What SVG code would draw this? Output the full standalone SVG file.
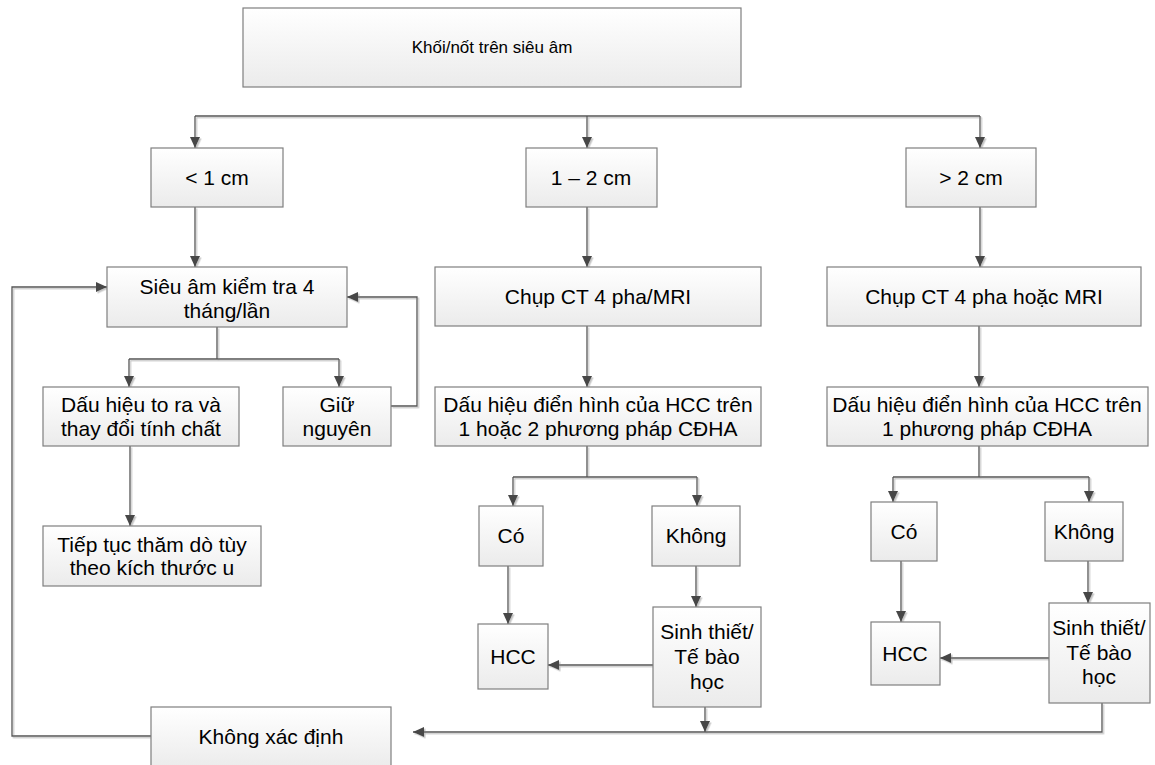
<svg xmlns="http://www.w3.org/2000/svg" width="1155" height="765" viewBox="0 0 1155 765">
  <style>
    .box { fill: url(#boxFill); stroke: #7f7f7f; stroke-width: 1.2; }
    .lbl { font-family: "Liberation Sans", Arial, sans-serif; font-size: 21px; fill: #000; text-anchor: middle; }
    .lbl-s { font-size: 17px; }
    .wire { fill: none; stroke: #555; stroke-width: 1.3; }
    .arr { marker-end: url(#head); }
  </style>
  <defs>
    <linearGradient id="boxFill" x1="0" y1="0" x2="0" y2="1">
      <stop offset="0" stop-color="#ffffff"/>
      <stop offset="1" stop-color="#ebebeb"/>
    </linearGradient>
    <marker id="head" markerUnits="userSpaceOnUse" viewBox="0 0 11 10" markerWidth="11" markerHeight="10" refX="11" refY="5" orient="auto">
      <path d="M0,0 L11,5 L0,10 z" fill="#474747"/>
    </marker>
    <filter id="soft" x="-5%" y="-5%" width="110%" height="110%">
      <feDropShadow dx="1.5" dy="1.5" stdDeviation="0.4" flood-color="#c4c4c4" flood-opacity="1"/>
    </filter>
  </defs>

  <rect width="1155" height="765" fill="#ffffff"/>

  <!-- connectors -->
  <g id="connectors" class="wire" filter="url(#soft)">
    <!-- size split -->
    <path d="M195,116 H980"/>
    <path class="arr" d="M195,116 V148"/>
    <path class="arr" d="M587,116 V148"/>
    <path class="arr" d="M980,116 V148"/>
    <path class="arr" d="M195,207 V267"/>
    <path class="arr" d="M587,207 V267"/>
    <path class="arr" d="M980,207 V267"/>

    <!-- < 1 cm branch -->
    <path d="M217,327 V359 M129,359 H339"/>
    <path class="arr" d="M129,359 V387"/>
    <path class="arr" d="M339,359 V387"/>
    <path class="arr" d="M391,406 H417 V297 H347"/>
    <path class="arr" d="M130,446 V526"/>
    <path class="arr" d="M151,736 H12 V287 H107"/>

    <!-- 1 - 2 cm branch -->
    <path class="arr" d="M587,326 V387"/>
    <path d="M587,446 V477 M513,477 H697"/>
    <path class="arr" d="M513,477 V506"/>
    <path class="arr" d="M697,477 V506"/>
    <path class="arr" d="M508,566 V624"/>
    <path class="arr" d="M696,566 V607"/>
    <path class="arr" d="M653,665 H548"/>
    <path class="arr" d="M705,707 V732"/>

    <!-- > 2 cm branch -->
    <path class="arr" d="M979,326 V387"/>
    <path d="M979,446 V477 M893,477 H1089"/>
    <path class="arr" d="M893,477 V502"/>
    <path class="arr" d="M1089,477 V502"/>
    <path class="arr" d="M901,561 V622"/>
    <path class="arr" d="M1088,561 V603"/>
    <path class="arr" d="M1049,658 H940"/>
    <path class="arr" d="M1102,703 V732 H413"/>
  </g>

  <!-- nodes -->
  <g id="n-start">
    <rect class="box" x="243" y="8" width="498" height="79"/>
    <text class="lbl lbl-s" x="492" y="53">Khối/nốt trên siêu âm</text>
  </g>

  <g id="n-lt1">
    <rect class="box" x="151" y="148" width="132" height="59"/>
    <text class="lbl" x="217" y="185">&lt; 1 cm</text>
  </g>
  <g id="n-1to2">
    <rect class="box" x="526" y="148" width="131" height="59"/>
    <text class="lbl" x="591" y="185">1 – 2 cm</text>
  </g>
  <g id="n-gt2">
    <rect class="box" x="906" y="148" width="130" height="59"/>
    <text class="lbl" x="971" y="185">&gt; 2 cm</text>
  </g>

  <g id="n-followup">
    <rect class="box" x="107" y="267" width="240" height="60"/>
    <text class="lbl" x="227" y="294">Siêu âm kiểm tra 4</text>
    <text class="lbl" x="227" y="318">tháng/lần</text>
  </g>
  <g id="n-ct-mid">
    <rect class="box" x="435" y="267" width="326" height="59"/>
    <text class="lbl" x="598" y="304">Chụp CT 4 pha/MRI</text>
  </g>
  <g id="n-ct-right">
    <rect class="box" x="827" y="267" width="314" height="59"/>
    <text class="lbl" x="984" y="304">Chụp CT 4 pha hoặc MRI</text>
  </g>

  <g id="n-grow">
    <rect class="box" x="43" y="387" width="196" height="59"/>
    <text class="lbl" x="141" y="412">Dấu hiệu to ra và</text>
    <text class="lbl" x="141" y="436">thay đổi tính chất</text>
  </g>
  <g id="n-same">
    <rect class="box" x="283" y="387" width="108" height="59"/>
    <text class="lbl" x="337" y="412">Giữ</text>
    <text class="lbl" x="337" y="436">nguyên</text>
  </g>
  <g id="n-sign-mid">
    <rect class="box" x="435" y="387" width="326" height="59"/>
    <text class="lbl" x="598" y="412">Dấu hiệu điển hình của HCC trên</text>
    <text class="lbl" x="598" y="436">1 hoặc 2 phương pháp CĐHA</text>
  </g>
  <g id="n-sign-right">
    <rect class="box" x="827" y="387" width="321" height="59"/>
    <text class="lbl" x="987" y="412">Dấu hiệu điển hình của HCC trên</text>
    <text class="lbl" x="987" y="436">1 phương pháp CĐHA</text>
  </g>

  <g id="n-continue">
    <rect class="box" x="43" y="526" width="218" height="60"/>
    <text class="lbl" x="152" y="552">Tiếp tục thăm dò tùy</text>
    <text class="lbl" x="152" y="575">theo kích thước u</text>
  </g>

  <g id="n-yes-mid">
    <rect class="box" x="479" y="506" width="64" height="60"/>
    <text class="lbl" x="511" y="543">Có</text>
  </g>
  <g id="n-no-mid">
    <rect class="box" x="652" y="506" width="88" height="60"/>
    <text class="lbl" x="696" y="543">Không</text>
  </g>
  <g id="n-yes-right">
    <rect class="box" x="871" y="502" width="66" height="59"/>
    <text class="lbl" x="904" y="539">Có</text>
  </g>
  <g id="n-no-right">
    <rect class="box" x="1045" y="502" width="78" height="59"/>
    <text class="lbl" x="1084" y="539">Không</text>
  </g>

  <g id="n-hcc-mid">
    <rect class="box" x="478" y="624" width="70" height="65"/>
    <text class="lbl" x="513" y="664">HCC</text>
  </g>
  <g id="n-biopsy-mid">
    <rect class="box" x="653" y="607" width="108" height="100"/>
    <text class="lbl" x="707" y="639">Sinh thiết/</text>
    <text class="lbl" x="707" y="664">Tế bào</text>
    <text class="lbl" x="707" y="689">học</text>
  </g>
  <g id="n-hcc-right">
    <rect class="box" x="871" y="622" width="69" height="63"/>
    <text class="lbl" x="905" y="661">HCC</text>
  </g>
  <g id="n-biopsy-right">
    <rect class="box" x="1049" y="603" width="101" height="100"/>
    <text class="lbl" x="1099" y="635">Sinh thiết/</text>
    <text class="lbl" x="1099" y="660">Tế bào</text>
    <text class="lbl" x="1099" y="684">học</text>
  </g>

  <g id="n-undetermined">
    <rect class="box" x="151" y="707" width="240" height="62"/>
    <text class="lbl" x="271" y="744">Không xác định</text>
  </g>
</svg>
